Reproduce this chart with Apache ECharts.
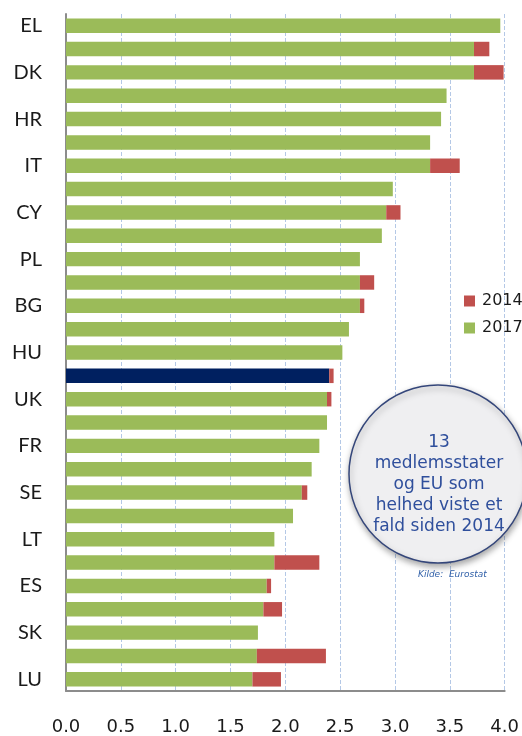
<!DOCTYPE html>
<html>
<head>
<meta charset="utf-8">
<script src="https://cdn.jsdelivr.net/npm/echarts@6/dist/echarts.min.js"></script>
<style>
html,body{margin:0;padding:0;background:#fff;}
#c{width:522px;height:736px;}
</style>
</head>
<body>
<div id="c"></div>
<script>
// Categories (top to bottom); only every other label is shown in the reference
var categories = ['EL','MT','DK','PT','HR','RO','IT','BE','CY','SI','PL','FI','BG','LV','HU','EU','UK','IE','FR','DE','SE','NL','LT','AT','ES','CZ','SK','EE','LU'];
// 2017 values (green)
var values2017 = [3.96,3.72,3.72,3.47,3.42,3.32,3.32,2.98,2.92,2.88,2.68,2.68,2.68,2.58,2.52,2.40,2.38,2.38,2.31,2.24,2.15,2.07,1.90,1.90,1.83,1.80,1.75,1.74,1.70];
// 2014 values where higher than 2017 (red part); null = no decline shown
var values2014 = [null,3.86,3.99,null,null,null,3.59,null,3.05,null,null,2.81,2.72,null,null,2.44,2.42,null,null,null,2.20,null,null,2.31,1.87,1.97,null,2.37,1.96];
var xTicks = {min:0, max:4, interval:0.5};
var euIndex = categories.indexOf('EU');

var greenData = values2017.map(function(v,i){
  if(i===euIndex) return {value:v, itemStyle:{color:'#002060'}};
  return v;
});
var redData = values2014.map(function(v,i){
  return (v!=null && v>values2017[i]) ? +(v-values2017[i]).toFixed(3) : 0;
});

var chart = echarts.init(document.getElementById('c'));
chart.setOption({
  animation:false,
  backgroundColor:'#ffffff',
  grid:{left:66,right:17,top:14,bottom:45,containLabel:false},
  legend:{
    orient:'vertical', left:459, top:288,
    data:['2014','2017'],
    itemWidth:11, itemHeight:11, itemGap:11,
    icon:'rect',
    textStyle:{fontFamily:'DejaVu Sans',fontSize:16,color:'#1a1a1a',padding:[0,0,0,2]}
  },
  xAxis:{
    type:'value', min:xTicks.min, max:xTicks.max, interval:xTicks.interval,
    axisLine:{show:true,lineStyle:{color:'#8c8c8c',width:2}},
    axisTick:{show:false},
    axisLabel:{margin:27,fontFamily:'DejaVu Sans',fontSize:18,color:'#1a1a1a',
      formatter:function(v){return v.toFixed(1);}},
    splitLine:{show:true,lineStyle:{type:'dashed',color:'#b4c8e6',width:1}}
  },
  yAxis:{
    type:'category', data:categories, inverse:true,
    axisLine:{show:true,lineStyle:{color:'#8c8c8c',width:2}},
    axisTick:{show:false},
    axisLabel:{interval:1,margin:24,fontFamily:'Lato',fontSize:20,color:'#1a1a1a'},
    splitLine:{show:false}
  },
  series:[
    {name:'2017',type:'bar',stack:'a',data:greenData,barCategoryGap:'38%',
     itemStyle:{color:'#9bbb59'}},
    {name:'2014',type:'bar',stack:'a',data:redData,
     itemStyle:{color:'#c0504d'}}
  ],
  graphic:[
    {type:'circle',shape:{cx:438,cy:474,r:89},z:10,
     style:{fill:'#efeff1',stroke:'#34467a',lineWidth:1.5,
       shadowBlur:6,shadowOffsetY:3,shadowOffsetX:1,shadowColor:'rgba(0,0,0,0.35)'}},
    {type:'text',x:439,y:485,z:11,
     style:{text:'13\nmedlemsstater\nog EU som\nhelhed viste et\nfald siden 2014',
       align:'center',verticalAlign:'middle',lineHeight:21,
       font:'17px "DejaVu Sans"',fill:'#2f4f9c'}},
    {type:'text',x:418,y:575,z:11,
     style:{text:'Kilde:  Eurostat',align:'left',verticalAlign:'middle',
       font:'italic 9px "DejaVu Sans"',fill:'#2f5fa8'}}
  ]
});
</script>
</body>
</html>
